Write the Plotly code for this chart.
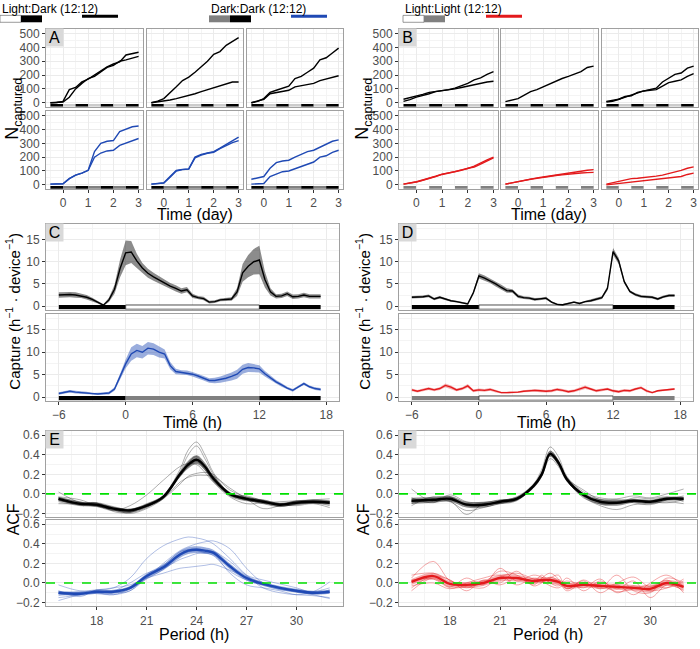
import numpy as np
import plotly.graph_objects as go

W, H = 700, 649

# %% data ---------------------------------------------------------------
days = [-0.5, -0.25, 0, 0.25, 0.5, 0.75, 1, 1.25, 1.5, 1.75, 2, 2.25, 2.5, 2.75, 3]

# panel A: top row Light:Dark, bottom row Dark:Dark (two traps per column)
a_ld_1 = [[0, 2, 10, 95, 110, 150, 170, 200, 235, 260, 280, 295, 345, 355, 365],
          [0, 1, 5, 40, 100, 140, 175, 190, 225, 255, 270, 300, 310, 325, 335]]
a_ld_2 = [[0, 12, 30, 70, 115, 160, 185, 220, 260, 300, 350, 370, 415, 445, 470],
          [0, 5, 10, 20, 30, 40, 50, 65, 80, 95, 110, 125, 140, 150, 150]]
a_ld_3 = [[0, 10, 30, 75, 90, 105, 120, 175, 190, 220, 250, 310, 325, 360, 395],
          [0, 10, 25, 65, 75, 85, 90, 115, 125, 130, 140, 160, 170, 185, 195]]
a_dd_1 = [[5, 5, 8, 45, 70, 85, 105, 240, 300, 315, 320, 385, 405, 420, 425],
          [5, 5, 8, 45, 70, 85, 105, 200, 230, 245, 250, 285, 300, 320, 335]]
a_dd_2 = [[5, 8, 15, 60, 105, 112, 115, 200, 220, 230, 240, 265, 290, 320, 345],
          [5, 7, 12, 55, 100, 110, 113, 195, 215, 228, 235, 262, 285, 305, 320]]
a_dd_3 = [[40, 50, 60, 120, 160, 172, 178, 200, 220, 240, 250, 270, 295, 315, 325],
          [5, 8, 10, 60, 80, 95, 100, 115, 130, 145, 165, 200, 210, 235, 250]]

# panel B: top row Light:Dark, bottom row Light:Light
b_ld_1 = [[25, 35, 50, 60, 75, 80, 85, 95, 105, 120, 140, 165, 180, 205, 225],
          [10, 22, 40, 50, 65, 80, 85, 90, 100, 110, 120, 135, 145, 150, 155]]
b_ld_2 = [[8, 18, 30, 55, 80, 95, 115, 140, 155, 175, 190, 205, 225, 255, 265]]
b_ld_3 = [[10, 15, 25, 45, 50, 75, 85, 95, 105, 150, 175, 205, 215, 250, 265],
          [5, 10, 25, 40, 50, 70, 85, 90, 95, 120, 145, 155, 165, 190, 210]]
b_ll_1 = [[5, 12, 22, 35, 47, 62, 77, 85, 95, 108, 118, 135, 160, 180, 200],
          [5, 10, 20, 33, 45, 60, 75, 85, 92, 105, 120, 128, 150, 175, 195]]
b_ll_2 = [[5, 15, 25, 35, 42, 50, 57, 63, 70, 77, 83, 90, 98, 105, 110],
          [5, 15, 25, 33, 40, 47, 55, 60, 67, 72, 78, 82, 85, 88, 90]]
b_ll_3 = [[5, 15, 25, 40, 45, 48, 52, 57, 63, 70, 80, 90, 105, 120, 130],
          [0, 5, 10, 15, 20, 22, 25, 30, 35, 40, 45, 50, 60, 75, 85]]

# panels C / D: capture rate, mean and standard error
hours = list(np.arange(-6, 18, 0.5))
c_ld_mean = [2.5, 2.6, 2.6, 2.5, 2.3, 2.0, 1.5, 0.9, 0.2, 1.4,
             3.8, 8.5, 12.0, 12.2, 10.2, 8.6, 7.4, 6.6, 5.9, 5.2,
             4.5, 4.0, 3.4, 3.7, 2.3, 1.9, 1.7, 0.9, 1.0, 1.4,
             1.5, 1.6, 3.2, 7.5, 9.0, 10.0, 10.4, 6.0, 3.2, 2.2,
             2.3, 2.8, 2.1, 2.2, 2.5, 2.2, 2.2, 2.2]
c_ld_se = [0.6, 0.6, 0.6, 0.6, 0.5, 0.5, 0.4, 0.3, 0.2, 0.5,
           1.0, 2.0, 2.8, 2.5, 1.6, 1.1, 1.0, 0.9, 0.8, 0.8,
           0.7, 0.7, 0.6, 0.6, 0.5, 0.4, 0.4, 0.3, 0.3, 0.3,
           0.3, 0.4, 0.9, 2.0, 2.5, 2.9, 3.2, 1.8, 0.8, 0.5,
           0.5, 0.5, 0.5, 0.5, 0.5, 0.5, 0.5, 0.5]
c_dd_mean = [0.8, 1.1, 1.3, 1.1, 1.0, 0.9, 0.7, 0.7, 0.8, 0.9,
             1.8, 4.5, 7.4, 9.6, 10.4, 10.0, 10.9, 10.7, 10.0, 9.6,
             7.0, 5.7, 5.5, 5.4, 5.1, 4.7, 4.2, 3.7, 3.7, 3.9,
             4.2, 4.6, 5.1, 6.2, 6.6, 6.5, 6.3, 5.2, 4.2, 3.4,
             2.7, 2.0, 1.5, 2.3, 3.0, 2.3, 1.9, 1.7]
c_dd_se = [0.3, 0.3, 0.3, 0.3, 0.3, 0.3, 0.2, 0.2, 0.2, 0.3,
           0.4, 0.7, 1.0, 1.5, 1.5, 1.4, 1.4, 1.3, 1.2, 1.0,
           0.8, 0.6, 0.5, 0.5, 0.5, 0.5, 0.5, 0.5, 0.6, 0.7,
           0.8, 0.9, 1.0, 1.0, 1.0, 0.9, 0.8, 0.6, 0.5, 0.4,
           0.4, 0.3, 0.3, 0.3, 0.3, 0.3, 0.3, 0.3]
d_ld_mean = [2.0, 2.0, 2.1, 2.3, 1.6, 2.0, 1.6, 1.2, 1.0, 0.7,
             0.5, 3.0, 6.8, 6.3, 5.7, 5.0, 4.2, 3.5, 3.4, 2.2,
             1.9, 1.8, 1.5, 1.6, 1.8, 0.9, 0.4, 0.3, 0.6, 0.9,
             0.6, 1.0, 1.2, 1.6, 1.9, 4.0, 12.3, 10.2, 5.5, 3.3,
             2.6, 2.2, 2.1, 2.0, 1.6, 2.1, 2.4, 2.4]
d_ld_se = [0.3, 0.3, 0.3, 0.3, 0.3, 0.3, 0.3, 0.2, 0.2, 0.2,
           0.2, 0.4, 0.6, 0.6, 0.5, 0.6, 0.6, 0.5, 0.4, 0.4,
           0.3, 0.3, 0.3, 0.3, 0.3, 0.2, 0.2, 0.2, 0.2, 0.2,
           0.2, 0.2, 0.3, 0.3, 0.3, 0.5, 0.8, 0.7, 0.4, 0.3,
           0.3, 0.3, 0.3, 0.3, 0.3, 0.3, 0.3, 0.3]
d_ll_mean = [1.6, 1.3, 1.6, 1.9, 1.6, 1.9, 2.6, 2.2, 1.6, 1.9,
             2.5, 1.4, 1.6, 1.5, 1.7, 1.3, 1.0, 1.0, 1.0, 1.1,
             1.3, 1.4, 1.5, 1.4, 1.3, 1.4, 1.7, 1.5, 1.2, 1.4,
             1.8, 2.2, 1.8, 1.4, 1.6, 1.8, 1.4, 1.2, 1.5, 1.4,
             1.8, 2.1, 1.4, 1.0, 1.4, 1.5, 1.7, 1.8]
d_ll_se = [0.3, 0.3, 0.3, 0.3, 0.3, 0.3, 0.4, 0.4, 0.3, 0.3,
           0.4, 0.3, 0.3, 0.3, 0.3, 0.3, 0.2, 0.2, 0.2, 0.2,
           0.2, 0.2, 0.3, 0.3, 0.3, 0.3, 0.3, 0.3, 0.3, 0.3,
           0.3, 0.4, 0.3, 0.3, 0.3, 0.3, 0.3, 0.3, 0.3, 0.3,
           0.3, 0.3, 0.3, 0.2, 0.2, 0.2, 0.2, 0.2]

# panels E / F: autocorrelation by period, single traps + mean and se
period = [15.7, 17, 18, 19, 20, 21, 22, 23, 23.5, 24, 24.5, 25, 26, 27, 28, 29, 30, 31, 32]
e_ld_traps = [
    [-0.04, -0.08, -0.12, -0.17, -0.19, -0.14, -0.02, 0.25, 0.45, 0.53, 0.40, 0.22, 0.0, -0.06, -0.10, -0.13, -0.10, -0.08, -0.10],
    [-0.06, -0.11, -0.10, -0.14, -0.16, -0.12, -0.05, 0.22, 0.40, 0.49, 0.36, 0.20, -0.02, -0.07, -0.08, -0.12, -0.11, -0.09, -0.12],
    [-0.08, -0.12, -0.13, -0.17, -0.12, -0.01, 0.14, 0.28, 0.31, 0.30, 0.22, 0.12, -0.03, -0.10, -0.09, -0.08, -0.07, -0.06, -0.05],
    [0.02, -0.09, -0.12, -0.16, -0.20, -0.15, -0.05, 0.10, 0.18, 0.21, 0.22, 0.20, 0.04, -0.03, -0.07, -0.11, -0.12, -0.10, -0.14],
    [-0.07, -0.10, -0.09, -0.18, -0.19, -0.11, -0.04, 0.12, 0.17, 0.19, 0.19, 0.18, 0.06, -0.05, -0.15, -0.12, -0.07, -0.09, -0.08],
    [-0.03, -0.06, -0.12, -0.15, -0.17, -0.13, -0.03, 0.20, 0.32, 0.38, 0.27, 0.14, -0.01, -0.02, -0.07, -0.10, -0.08, -0.06, -0.07],
    [-0.10, -0.10, -0.09, -0.13, -0.16, -0.10, -0.02, 0.18, 0.28, 0.33, 0.25, 0.13, 0.01, -0.04, -0.06, -0.10, -0.09, -0.07, -0.08],
]
e_ld_mean = [-0.05, -0.10, -0.11, -0.15, -0.17, -0.12, -0.03, 0.20, 0.30, 0.35, 0.28, 0.16, 0.00, -0.05, -0.08, -0.11, -0.09, -0.08, -0.09]
e_ld_se = [0.02, 0.02, 0.02, 0.02, 0.02, 0.02, 0.02, 0.03, 0.04, 0.045, 0.04, 0.03, 0.02, 0.02, 0.02, 0.02, 0.02, 0.02, 0.02]
e_dd_traps = [
    [-0.15, -0.12, -0.08, -0.05, 0.05, 0.25, 0.38, 0.45, 0.47, 0.46, 0.44, 0.40, 0.25, 0.08, -0.05, -0.10, -0.12, -0.13, -0.15],
    [-0.13, -0.10, -0.11, -0.12, -0.08, 0.05, 0.20, 0.33, 0.37, 0.40, 0.42, 0.43, 0.35, 0.15, 0.0, -0.06, -0.09, -0.12, -0.16],
    [-0.02, -0.08, -0.07, -0.05, -0.02, 0.05, 0.10, 0.15, 0.16, 0.17, 0.18, 0.19, 0.13, 0.06, 0.0, -0.05, -0.08, -0.09, -0.05],
    [-0.11, -0.09, -0.10, -0.12, -0.06, 0.04, 0.14, 0.28, 0.32, 0.33, 0.31, 0.28, 0.12, 0.03, -0.02, -0.07, -0.09, -0.11, -0.10],
    [-0.18, -0.12, -0.09, -0.10, -0.08, 0.07, 0.18, 0.32, 0.34, 0.35, 0.33, 0.30, 0.10, -0.02, -0.05, -0.08, -0.12, -0.09, 0.01],
    [-0.08, -0.14, -0.07, -0.08, 0.0, 0.10, 0.15, 0.24, 0.27, 0.30, 0.31, 0.32, 0.22, 0.08, 0.03, -0.01, -0.05, -0.10, -0.07],
]
e_dd_mean = [-0.10, -0.11, -0.09, -0.09, -0.05, 0.07, 0.16, 0.29, 0.33, 0.34, 0.33, 0.31, 0.17, 0.05, -0.01, -0.05, -0.08, -0.10, -0.09]
e_dd_se = [0.02, 0.02, 0.02, 0.02, 0.02, 0.025, 0.03, 0.035, 0.035, 0.035, 0.035, 0.03, 0.03, 0.025, 0.02, 0.02, 0.02, 0.02, 0.02]
f_ld_traps = [
    [0.05, -0.08, -0.03, -0.12, -0.12, -0.07, -0.03, 0.10, 0.25, 0.48, 0.38, 0.18, 0.02, -0.04, -0.05, -0.02, -0.04, 0.0, 0.05],
    [-0.10, -0.05, -0.08, -0.17, -0.14, -0.10, -0.06, 0.06, 0.18, 0.36, 0.28, 0.13, -0.03, -0.12, -0.16, -0.11, -0.10, -0.08, -0.10],
    [-0.04, -0.09, -0.01, -0.08, -0.09, -0.06, -0.05, 0.09, 0.22, 0.44, 0.34, 0.16, 0.04, -0.06, -0.06, -0.09, -0.11, -0.06, -0.02],
    [-0.12, -0.03, -0.06, -0.10, -0.11, -0.09, -0.04, 0.07, 0.19, 0.40, 0.30, 0.14, -0.04, -0.10, -0.10, -0.04, -0.05, -0.03, -0.08],
    [-0.08, -0.07, -0.07, -0.21, -0.10, -0.10, -0.07, 0.08, 0.21, 0.42, 0.33, 0.17, 0.0, -0.08, -0.08, -0.08, -0.08, -0.09, -0.06],
]
f_ld_mean = [-0.07, -0.06, -0.05, -0.11, -0.11, -0.08, -0.05, 0.08, 0.20, 0.41, 0.32, 0.15, -0.01, -0.08, -0.09, -0.07, -0.08, -0.05, -0.05]
f_ld_se = [0.03, 0.03, 0.03, 0.03, 0.03, 0.02, 0.02, 0.02, 0.03, 0.03, 0.03, 0.02, 0.02, 0.03, 0.03, 0.02, 0.02, 0.02, 0.02]
f_ll_traps = [
    [0.05, 0.22, 0.02, -0.03, 0.0, 0.12, 0.08, -0.02, 0.05, 0.10, 0.04, -0.06, 0.03, -0.05, 0.08, -0.08, -0.10, 0.05, 0.0],
    [-0.08, 0.05, -0.04, 0.05, -0.02, 0.15, 0.02, 0.08, 0.06, 0.00, -0.03, 0.05, -0.08, 0.02, -0.06, 0.02, -0.15, -0.02, -0.08],
    [0.08, 0.10, 0.03, -0.05, 0.02, 0.00, 0.12, -0.03, 0.0, 0.05, 0.08, -0.06, 0.02, -0.10, -0.02, -0.12, 0.0, 0.08, -0.04],
    [-0.03, 0.0, -0.06, 0.0, 0.05, 0.08, -0.02, 0.05, 0.02, -0.03, -0.05, 0.0, -0.05, 0.04, -0.10, -0.03, -0.08, -0.05, 0.04],
    [0.03, 0.04, -0.05, -0.04, -0.05, 0.06, 0.10, 0.04, 0.01, 0.06, 0.02, -0.08, 0.0, -0.06, 0.0, 0.06, -0.04, 0.03, -0.10],
    [-0.05, 0.07, 0.03, -0.08, 0.03, -0.02, 0.05, 0.0, 0.08, 0.0, -0.01, 0.02, -0.02, -0.02, -0.09, -0.06, -0.02, -0.05, 0.02],
]
f_ll_mean = [0.01, 0.07, -0.01, -0.02, 0.0, 0.05, 0.05, 0.02, 0.03, 0.03, 0.01, -0.03, -0.02, -0.03, -0.04, -0.05, -0.06, 0.0, -0.04]
f_ll_se = [0.03, 0.035, 0.03, 0.03, 0.03, 0.035, 0.035, 0.03, 0.03, 0.03, 0.03, 0.03, 0.03, 0.03, 0.03, 0.03, 0.035, 0.03, 0.035]

# light schedule edges
day_edges = [-0.5, 0, 0.5, 1, 1.5, 2, 2.5, 3]
hour_edges = [-6, 0, 12, 17.5]

# %% styling ------------------------------------------------------------
BLACK = '#000000'
BLUE = '#1f49b4'
RED = '#e31a1c'
GREY = '#808080'
LIGHT = '#cccccc'
BLUE_RIB = 'rgba(31,73,180,0.45)'
RED_RIB = 'rgba(227,26,28,0.35)'
GREY_RIB = 'rgba(0,0,0,0.45)'

fig = go.Figure()
layout = dict(width=W, height=H, margin=dict(l=0, r=0, t=0, b=0),
              paper_bgcolor='white', plot_bgcolor='white', showlegend=False,
              font=dict(family='Liberation Sans, Arial, sans-serif', color='black'))
shapes = []
annos = []
count = [0]


def panel(xd, yd, xr, yr, xt, xtt, xm, yt, ytt, ym, showx, showy):
    count[0] += 1
    s = '' if count[0] == 1 else str(count[0])
    common = dict(showgrid=True, gridcolor='#ebebeb', gridwidth=1, showline=True, mirror=True,
                  linecolor='#a0a0a0', linewidth=1, zeroline=False, tickmode='array',
                  tickfont=dict(size=12, color='#4d4d4d'), ticklen=3, tickcolor='#333333')
    layout['xaxis' + s] = dict(common, domain=[xd[0] / W, xd[1] / W], range=xr, anchor='y' + s,
                               tickvals=xt, ticktext=xtt, showticklabels=showx,
                               ticks='outside' if showx else '',
                               minor=dict(tickmode='array', tickvals=xm, showgrid=True,
                                          gridcolor='#f4f4f4', gridwidth=0.6))
    layout['yaxis' + s] = dict(common, domain=[1 - yd[1] / H, 1 - yd[0] / H], range=yr, anchor='x' + s,
                               tickvals=yt, ticktext=ytt, showticklabels=showy,
                               ticks='outside' if showy else '',
                               minor=dict(tickmode='array', tickvals=ym, showgrid=True,
                                          gridcolor='#f4f4f4', gridwidth=0.6))
    return 'x' + s, 'y' + s


def bar(xa, ya, edges, fills, y0, y1, outline):
    for a, b, f in zip(edges[:-1], edges[1:], fills):
        shapes.append(dict(type='rect', xref=xa, yref=ya, x0=a, x1=b, y0=y0, y1=y1, fillcolor=f,
                           layer='between',
                           line=dict(width=0.8 if (outline and f == 'white') else 0, color='#222222')))


def ribbon(x, m, se, xa, ya, fillc, linec, lw, shape='linear'):
    lo = [a - b for a, b in zip(m, se)]
    hi = [a + b for a, b in zip(m, se)]
    fig.add_trace(go.Scatter(x=x, y=lo, mode='lines', line=dict(width=0, shape=shape),
                             xaxis=xa, yaxis=ya, hoverinfo='skip'))
    fig.add_trace(go.Scatter(x=x, y=hi, mode='lines', line=dict(width=0, shape=shape), fill='tonexty',
                             fillcolor=fillc, xaxis=xa, yaxis=ya, hoverinfo='skip'))
    fig.add_trace(go.Scatter(x=x, y=m, mode='lines', line=dict(color=linec, width=lw, shape=shape),
                             xaxis=xa, yaxis=ya, hoverinfo='skip'))


def letter(txt, x0, y0):
    annos.append(dict(x=(x0 + 8.5) / W, y=1 - (y0 + 8.5) / H, xref='paper', yref='paper', text=txt,
                      showarrow=False, font=dict(size=16, color='black'), bgcolor='#d9d9d9',
                      width=17, height=17, borderpad=0, xanchor='center', yanchor='middle'))


def label(txt, x, y, size, angle=0):
    annos.append(dict(x=x / W, y=1 - y / H, xref='paper', yref='paper', text=txt, showarrow=False,
                      font=dict(size=size, color='black'), textangle=angle,
                      xanchor='center', yanchor='middle'))


# %% panels A and B: cumulative captures ---------------------------------
n_ticks = [0, 100, 200, 300, 400, 500]
n_minor = [50, 150, 250, 350, 450]
d_ticks = [0, 1, 2, 3]
d_minor = [-0.5, 0.5, 1.5, 2.5]
rows = [(26, 105), (109, 188)]
groups = [
    ([(46, 143), (147, 243), (247, 343)],
     [([a_ld_1, a_ld_2, a_ld_3], BLACK, [BLACK, LIGHT]),
      ([a_dd_1, a_dd_2, a_dd_3], BLUE, [BLACK, GREY])]),
    ([(399, 498), (501, 598), (602, 698)],
     [([b_ld_1, b_ld_2, b_ld_3], BLACK, [BLACK, LIGHT]),
      ([b_ll_1, b_ll_2, b_ll_3], RED, [GREY, 'white'])]),
]
for cols, row_sets in groups:
    for r, (sets, colr, pal) in enumerate(row_sets):
        for c, (xd, series) in enumerate(zip(cols, sets)):
            xa, ya = panel(xd, rows[r], [-0.675, 3.175], [-30, 535],
                           d_ticks, [str(v) for v in d_ticks], d_minor,
                           n_ticks, [str(v) for v in n_ticks], n_minor,
                           r == 1, c == 0)
            bar(xa, ya, day_edges, [pal[k % 2] for k in range(len(day_edges) - 1)], -29, -9, False)
            for y in series:
                fig.add_trace(go.Scatter(x=days, y=y, mode='lines', line=dict(color=colr, width=1.4),
                                         xaxis=xa, yaxis=ya, hoverinfo='skip'))

letter('A', 46, 26)
letter('B', 399, 26)
label('N<sub>captured</sub>', 14, 107, 18, -90)
label('N<sub>captured</sub>', 364, 107, 18, -90)
label('Time (day)', 195, 214, 16)
label('Time (day)', 549, 214, 16)

# %% panels C and D: capture rate ----------------------------------------
h_ticks = [-6, 0, 6, 12, 18]
h_text = ['\u22126', '0', '6', '12', '18']
h_minor = [-3, 3, 9, 15]
c_ticks = [0, 5, 10, 15]
c_minor = [2.5, 7.5, 12.5, 17.5]
rows_cd = [(223, 310), (314, 402)]
cd_sets = [
    ((46, 339), [(c_ld_mean, c_ld_se, BLACK, GREY_RIB, [BLACK, 'white', BLACK]),
                 (c_dd_mean, c_dd_se, BLUE, BLUE_RIB, [BLACK, GREY, BLACK])]),
    ((399, 693), [(d_ld_mean, d_ld_se, BLACK, GREY_RIB, [BLACK, 'white', BLACK]),
                  (d_ll_mean, d_ll_se, RED, RED_RIB, [GREY, 'white', GREY])]),
]
for xd, items in cd_sets:
    for r, (m, se, colr, rib, pal) in enumerate(items):
        xa, ya = panel(xd, rows_cd[r], [-7.15, 19.15], [-0.8, 18.6],
                       h_ticks, h_text, h_minor, c_ticks, [str(v) for v in c_ticks], c_minor,
                       r == 1, True)
        bar(xa, ya, hour_edges, pal, -0.7, 0.25, True)
        ribbon(hours, m, se, xa, ya, rib, colr, 1.4)

letter('C', 46, 223)
letter('D', 399, 223)
cap = 'Capture (h<sup>\u22121</sup> \u00b7 device<sup>\u22121</sup>)'
label(cap, 13, 312, 15, -90)
label(cap, 363, 312, 15, -90)
label('Time (h)', 192, 424, 16)
label('Time (h)', 546, 424, 16)

# %% panels E and F: autocorrelation -------------------------------------
p_ticks = [18, 21, 24, 27, 30]
p_minor = [16.5, 19.5, 22.5, 25.5, 28.5, 31.5]
a_ticks = [-0.2, 0, 0.2, 0.4, 0.6]
a_text = ['\u22120.2', '0.0', '0.2', '0.4', '0.6']
a_minor = [-0.1, 0.1, 0.3, 0.5]
rows_ef = [(433, 520), (523, 610)]
ef_sets = [
    ((46, 343), [(e_ld_traps, e_ld_mean, e_ld_se, BLACK, 'rgba(0,0,0,0.45)', GREY_RIB),
                 (e_dd_traps, e_dd_mean, e_dd_se, BLUE, 'rgba(31,73,180,0.5)', BLUE_RIB)]),
    ((399, 697), [(f_ld_traps, f_ld_mean, f_ld_se, BLACK, 'rgba(0,0,0,0.45)', GREY_RIB),
                  (f_ll_traps, f_ll_mean, f_ll_se, RED, 'rgba(227,26,28,0.55)', RED_RIB)]),
]
for xd, items in ef_sets:
    for r, (traps, m, se, colr, thin, rib) in enumerate(items):
        xa, ya = panel(xd, rows_ef[r], [14.95, 32.8], [-0.24, 0.64],
                       p_ticks, [str(v) for v in p_ticks], p_minor, a_ticks, a_text, a_minor,
                       r == 1, True)
        for y in traps:
            fig.add_trace(go.Scatter(x=period, y=y, mode='lines',
                                     line=dict(color=thin, width=0.7, shape='spline'),
                                     xaxis=xa, yaxis=ya, hoverinfo='skip'))
        ribbon(period, m, se, xa, ya, rib, colr, 2.4, 'spline')
        shapes.append(dict(type='line', xref=xa + ' domain', yref=ya, x0=0, x1=1, y0=0, y1=0,
                           layer='above', line=dict(color='#00e000', width=1.6, dash='dash')))

letter('E', 46, 433)
letter('F', 399, 433)
label('ACF', 13, 522, 16, -90)
label('ACF', 363, 522, 16, -90)
label('Period (h)', 194, 638, 16)
label('Period (h)', 548, 638, 16)

# %% legend strip ---------------------------------------------------------
legend_items = [('Light:Dark (12:12)', 0, ['white', BLACK], BLACK, 82),
                ('Dark:Dark (12:12)', 209, [GREY, BLACK], BLUE, 291),
                ('Light:Light (12:12)', 403, ['white', GREY], RED, 486)]
for txt, x0, boxes, colr, lx in legend_items:
    annos.append(dict(x=x0 / W, y=1 - 6 / H, xref='paper', yref='paper', text=txt, showarrow=False,
                      font=dict(family='Liberation Sans Narrow, Liberation Sans, sans-serif',
                                size=12, color='black'),
                      xanchor='left', yanchor='middle'))
    for k, f in enumerate(boxes):
        shapes.append(dict(type='rect', xref='paper', yref='paper',
                           x0=(x0 + 21 * k) / W, x1=(x0 + 21 * (k + 1)) / W,
                           y0=1 - 19.5 / H, y1=1 - 12.5 / H, fillcolor=f,
                           line=dict(width=0.6 if f == 'white' else 0, color='#555555')))
    shapes.append(dict(type='line', xref='paper', yref='paper', x0=lx / W, x1=(lx + 36) / W,
                       y0=1 - 13.5 / H, y1=1 - 13.5 / H, line=dict(color=colr, width=3)))

layout['shapes'] = shapes
layout['annotations'] = annos
fig.update_layout(layout)

fig.write_html("out.html", config={'displayModeBar': False},
               post_script="document.body.style.margin='0px';")
